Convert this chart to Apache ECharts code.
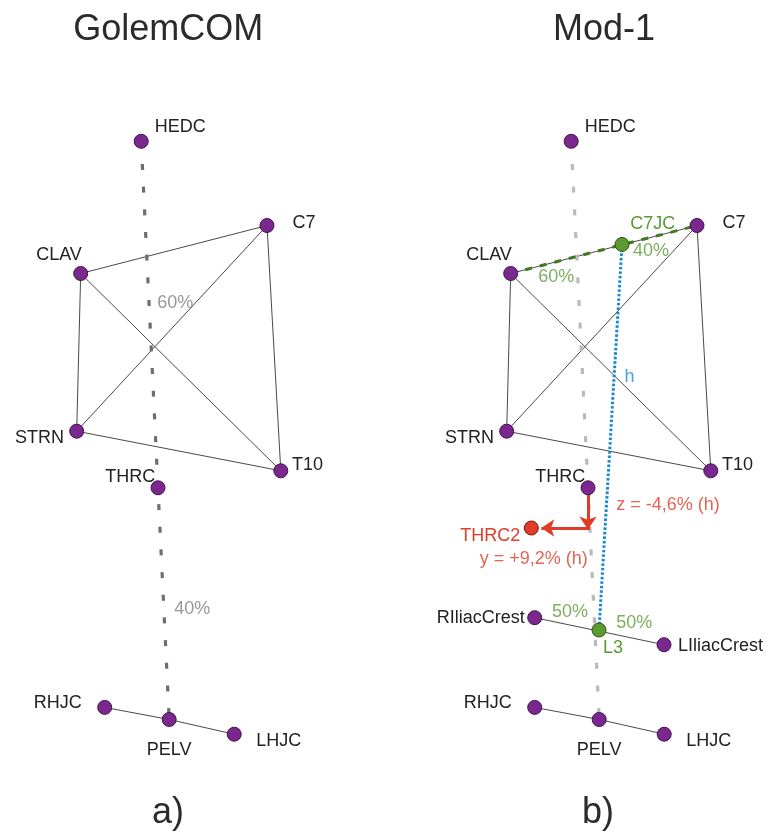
<!DOCTYPE html>
<html>
<head>
<meta charset="utf-8">
<script src="https://cdn.jsdelivr.net/npm/echarts@6/dist/echarts.min.js"></script>
<style>
  html, body { margin: 0; padding: 0; background: #ffffff; }
  #chart { width: 766px; height: 832px; }
</style>
</head>
<body>
<div id="chart"></div>
<script>
// ---- Marker positions (body frame, shared by both panels) ----
const markerNames = ['HEDC', 'C7', 'CLAV', 'STRN', 'T10', 'THRC', 'RHJC', 'PELV', 'LHJC'];
const markerX     = [141.2, 267, 80.7, 76.7, 280.8, 158, 104.7, 169.2, 234.2];
const markerY     = [141.3, 225.5, 273.5, 431.2, 470.8, 487.8, 707.4, 719.5, 734.2];

// ---- Extra landmarks of the Mod-1 model ----
const modNames = ['C7JC', 'L3', 'RIliacCrest', 'LIliacCrest', 'THRC2'];
const modX     = [192, 169, 104.7, 234, 101.3];
const modY     = [244.4, 630, 617.7, 644.7, 528];

// ---- Segments ----
const skeleton = [['CLAV', 'C7'], ['C7', 'T10'], ['T10', 'STRN'], ['STRN', 'CLAV'],
                  ['CLAV', 'T10'], ['STRN', 'C7'], ['RHJC', 'PELV'], ['PELV', 'LHJC']];
const iliacLine = ['RIliacCrest', 'LIliacCrest'];
const trunkAxis = ['HEDC', 'PELV'];
const heightLine = ['C7JC', 'L3'];
const c7jcLine = ['CLAV', 'C7'];

// ---- Annotation texts ----
const notesA = ['60%', '40%'];
const notesB = ['60%', '40%', 'h', 'z = -4,6% (h)', 'y = +9,2% (h)', '50%', '50%'];
const panelTitles = ['GolemCOM', 'Mod-1'];
const panelTags = ['a)', 'b)'];

// ---- Layout / style ----
const FONT = '"Liberation Sans", Arial, Helvetica, sans-serif';
const PURPLE = '#7a288e', PURPLE_EDGE = '#45124f';
const GREEN = '#5c9a32', GREEN_EDGE = '#2c5515', GREEN_TEXT = '#5a9a34', GREEN_DASH = '#3f7a22';
const RED = '#e03c28', RED_EDGE = '#6e170d';
const BLUE = '#1b8bcf';
const TEXT = '#222222';
const PANEL_W = 336;

const labelPlace = {
  HEDC: { dx: 39, dy: -14.5 },
  C7: { dx: 37, dy: -2.4 },
  CLAV: { dx: -21.7, dy: -18.5 },
  STRN: { dx: -37.3, dy: 7.2 },
  T10: { dx: 26.8, dy: -6.2 },
  THRC: { dx: -27.7, dy: -11.2 },
  RHJC: { dx: -47, dy: -4 },
  PELV: { dx: 0, dy: 30.8 },
  LHJC: { dx: 44.5, dy: 6.6 },
  C7JC: { dx: 30.7, dy: -20.6 },
  L3: { dx: 14, dy: 18.3 },
  RIliacCrest: { align: 'right', dx: -10, dy: 0.6 },
  LIliacCrest: { align: 'left', dx: 14, dy: 1.3 },
  THRC2: { align: 'right', dx: -11, dy: 8.3 }
};

// anchor points of the annotation texts, in the panel frame
const notePlaceA = [[175.3, 303], [192.3, 608.7]];
const notePlaceB = [[126.3, 277], [221, 251.2], [199.5, 377.3], [238, 505],
                    [103.7, 559.5], [140, 611.8], [204.3, 623.3]];
const noteColorA = ['#7d7d7d', '#7d7d7d'];
const noteColorB = [GREEN_TEXT, GREEN_TEXT, BLUE, RED, RED, GREEN_TEXT, GREEN_TEXT];

// ---- Helpers ----
const pos = {};
markerNames.forEach((n, i) => { pos[n] = [markerX[i], markerY[i]]; });
modNames.forEach((n, i) => { pos[n] = [modX[i], modY[i]]; });

function segLine(pair, idx, style, z) {
  return {
    type: 'line', xAxisIndex: idx, yAxisIndex: idx, z: z || 2,
    data: [pos[pair[0]], pos[pair[1]]],
    showSymbol: false, symbol: 'none', silent: true, animation: false,
    lineStyle: Object.assign({ opacity: 1 }, style)
  };
}

function pointItem(name, color, edge) {
  const p = labelPlace[name];
  return {
    name: name, value: pos[name],
    itemStyle: { color: color, borderColor: edge, borderWidth: 1, opacity: 1 },
    label: {
      show: true, position: 'inside', formatter: name,
      offset: [p.dx, p.dy], align: p.align || 'center', verticalAlign: 'middle',
      fontFamily: FONT, fontSize: 18, textBorderWidth: 0,
      color: name === 'THRC2' ? RED : (name === 'C7JC' || name === 'L3') ? GREEN_TEXT : TEXT
    }
  };
}

function noteSeries(texts, places, colors, idx) {
  return {
    type: 'scatter', xAxisIndex: idx, yAxisIndex: idx, z: 6, silent: true,
    symbolSize: 1, itemStyle: { color: 'rgba(0,0,0,0)' },
    data: texts.map((t, i) => ({
      value: places[i],
      label: {
        show: true, position: 'inside', formatter: t, color: colors[i], textBorderWidth: 0,
        fontFamily: FONT, fontSize: 18, align: 'center', verticalAlign: 'middle'
      }
    }))
  };
}

const series = [];
[0, 1].forEach(idx => {
  skeleton.forEach(s => series.push(segLine(s, idx, { color: '#4a4a4a', width: 1 })));
  series.push(segLine(trunkAxis, idx, {
    color: idx === 0 ? '#6e6e6e' : '#bababa', width: 3.2, type: [6, 16.7], cap: 'butt'
  }, 3));
  series.push({
    type: 'scatter', xAxisIndex: idx, yAxisIndex: idx, z: 5, symbolSize: 14, silent: true,
    data: markerNames.map(n => pointItem(n, PURPLE, PURPLE_EDGE))
  });
});

// Mod-1 additions
series.push(segLine(iliacLine, 1, { color: '#4a4a4a', width: 1 }));
series.push(segLine(c7jcLine, 1, { color: GREEN_DASH, width: 3, type: [7, 8], cap: 'butt' }, 3));
series.push(segLine(heightLine, 1, { color: BLUE, width: 3, type: [2.6, 1.9], cap: 'butt' }, 4));

// THRC -> THRC2 shift arrows
const corner = [pos.THRC[0], pos.THRC2[1]];
series.push({
  type: 'lines', coordinateSystem: 'cartesian2d', xAxisIndex: 1, yAxisIndex: 1, z: 4,
  silent: true, animation: false,
  symbol: ['none', 'arrow'], symbolSize: [0, 13],
  lineStyle: { color: RED, width: 3, opacity: 1, curveness: 0 },
  data: [
    { coords: [[pos.THRC[0], pos.THRC[1] + 7], [corner[0], corner[1] + 1.5]] },
    { coords: [[corner[0] + 1.5, corner[1]], [pos.THRC2[0] + 10, pos.THRC2[1]]] }
  ]
});

series.push({
  type: 'scatter', xAxisIndex: 1, yAxisIndex: 1, z: 5, symbolSize: 14, silent: true,
  data: [
    pointItem('C7JC', GREEN, GREEN_EDGE),
    pointItem('L3', GREEN, GREEN_EDGE),
    pointItem('RIliacCrest', PURPLE, PURPLE_EDGE),
    pointItem('LIliacCrest', PURPLE, PURPLE_EDGE),
    pointItem('THRC2', RED, RED_EDGE)
  ]
});

series.push(noteSeries(notesA, notePlaceA, noteColorA, 0));
series.push(noteSeries(notesB, notePlaceB, noteColorB, 1));

const axisX = { type: 'value', min: 0, max: PANEL_W, show: false };
const axisY = { type: 'value', min: 0, max: 832, inverse: true, show: false };

const option = {
  animation: false,
  backgroundColor: '#ffffff',
  grid: [
    { left: 0, top: 0, width: PANEL_W, height: 832 },
    { left: 430, top: 0, width: PANEL_W, height: 832 }
  ],
  xAxis: [Object.assign({ gridIndex: 0 }, axisX), Object.assign({ gridIndex: 1 }, axisX)],
  yAxis: [Object.assign({ gridIndex: 0 }, axisY), Object.assign({ gridIndex: 1 }, axisY)],
  graphic: [
    { type: 'text', x: 168.3, y: 30, style: { text: panelTitles[0], font: '36px ' + FONT, fill: '#2b2b2b', align: 'center', verticalAlign: 'middle' } },
    { type: 'text', x: 604, y: 30, style: { text: panelTitles[1], font: '36px ' + FONT, fill: '#2b2b2b', align: 'center', verticalAlign: 'middle' } },
    { type: 'text', x: 168, y: 813, style: { text: panelTags[0], font: '36px ' + FONT, fill: '#2b2b2b', align: 'center', verticalAlign: 'middle' } },
    { type: 'text', x: 598, y: 813, style: { text: panelTags[1], font: '36px ' + FONT, fill: '#2b2b2b', align: 'center', verticalAlign: 'middle' } }
  ],
  series: series
};

const chart = echarts.init(document.getElementById('chart'), null, { renderer: 'canvas' });
chart.setOption(option);
</script>
</body>
</html>
